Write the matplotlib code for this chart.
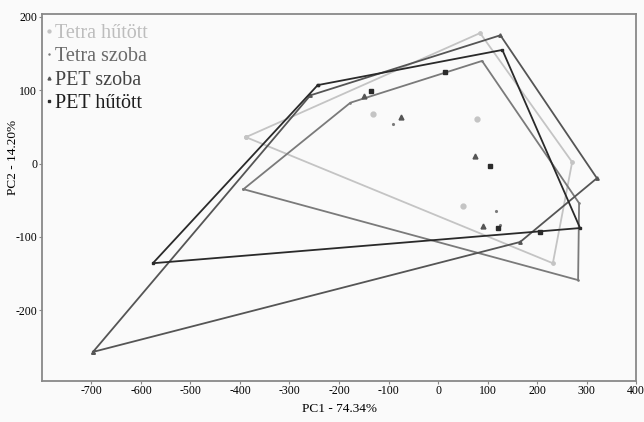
import matplotlib.pyplot as plt

plt.rcParams['font.family'] = ['Liberation Serif', 'DejaVu Serif']
plt.rcParams['axes.unicode_minus'] = False

# PCA scores, hull vertices first then interior points
tetra_hutott_hull_x = [-388, 85, 271, 232]
tetra_hutott_hull_y = [36, 178, 2, -136]
tetra_hutott_x = [-132, 79, 51]
tetra_hutott_y = [68, 61, -58]

tetra_szoba_hull_x = [-393, -177, 89, 285, 283]
tetra_szoba_hull_y = [-35, 83, 140, -54, -159]
tetra_szoba_x = [-90, 118, 126]
tetra_szoba_y = [54, -65, -84]

pet_szoba_hull_x = [-697, -258, 126, 321, 166]
pet_szoba_hull_y = [-257, 93, 175, -20, -107]
pet_szoba_x = [-150, -74, 75, 91]
pet_szoba_y = [92, 63, 10, -85]

pet_hutott_hull_x = [-243, 130, 287, -576]
pet_hutott_hull_y = [107, 155, -88, -136]
pet_hutott_x = [-136, 15, 105, 122, 206]
pet_hutott_y = [99, 125, -3, -88, -93]

groups = [
    ('Tetra hűtött', tetra_hutott_hull_x, tetra_hutott_hull_y, tetra_hutott_x, tetra_hutott_y, '#c4c4c4', 'o', 3.5),
    ('Tetra szoba', tetra_szoba_hull_x, tetra_szoba_hull_y, tetra_szoba_x, tetra_szoba_y, '#7a7a7a', '.', 2.5),
    ('PET szoba', pet_szoba_hull_x, pet_szoba_hull_y, pet_szoba_x, pet_szoba_y, '#555555', '^', 3.5),
    ('PET hűtött', pet_hutott_hull_x, pet_hutott_hull_y, pet_hutott_x, pet_hutott_y, '#2a2a2a', 's', 3),
]
text_colors = ['#bdbdbd', '#6a6a6a', '#444444', '#1e1e1e']

fig = plt.figure(figsize=(6.44, 4.22), dpi=100, facecolor='#fafafa')
ax = fig.add_axes([0.0652, 0.0983, 0.9224, 0.8685])
ax.set_facecolor('#fafafa')

for name, hx, hy, px, py, col, mk, ms in groups:
    ax.plot(hx + [hx[0]], hy + [hy[0]], color=col, lw=1.3, marker=mk, ms=ms * 0.7)
    ax.plot(px, py, ls='none', color=col, marker=mk, ms=ms, label=name)

ax.set_xlim(-800, 400)
ax.set_ylim(-296, 204)
ax.set_xticks(range(-700, 401, 100))
ax.set_yticks([-200, -100, 0, 100, 200])
ax.tick_params(labelsize=8.5, length=2, pad=1.5, color='#888888')
for s in ax.spines.values():
    s.set_color('#888888')
    s.set_linewidth(1.3)

ax.set_xlabel('PC1 - 74.34%', fontsize=9.5, labelpad=4)
ax.set_ylabel('PC2 - 14.20%', fontsize=9.5)
ax.yaxis.set_label_coords(-0.039, 0.61)

leg = ax.legend(loc='upper left', frameon=False, fontsize=14.5, handlelength=0.3,
                handletextpad=0.15, borderaxespad=0.0, borderpad=0.2, labelspacing=0.22,
                markerscale=0.6, bbox_to_anchor=(0.0, 0.985))
for t, c in zip(leg.get_texts(), text_colors):
    t.set_color(c)

fig.savefig('out.png', dpi=100, facecolor=fig.get_facecolor())
